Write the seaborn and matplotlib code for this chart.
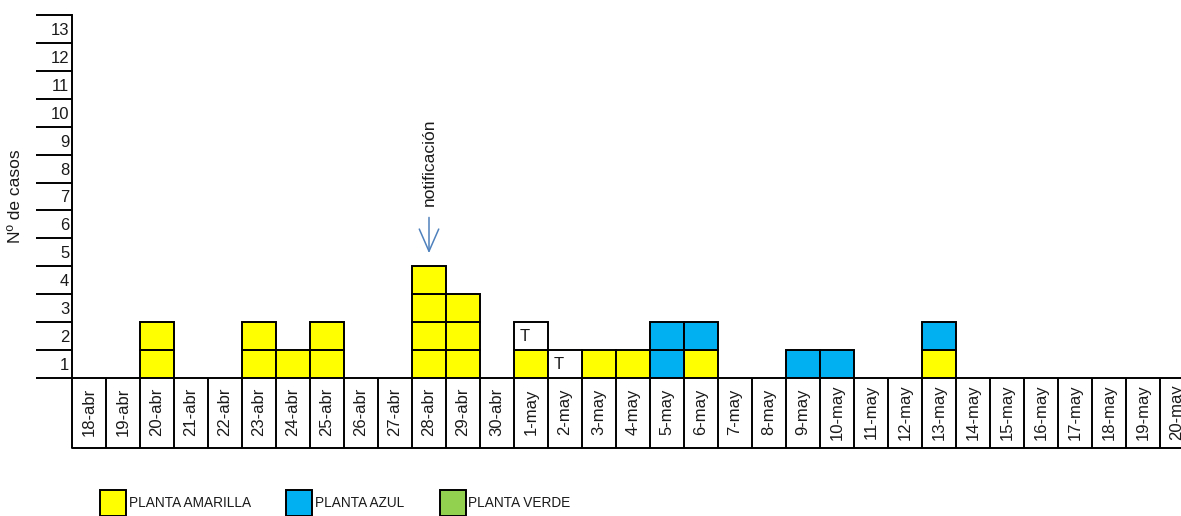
import matplotlib
matplotlib.use("Agg")
import matplotlib.pyplot as plt
from matplotlib.patches import Patch
from matplotlib.transforms import blended_transform_factory
from matplotlib import font_manager
import seaborn as sns
import pandas as pd

# Onset dates (April 18 - May 20)
fechas = [f"{d}-abr" for d in range(18, 31)] + [f"{d}-may" for d in range(1, 21)]

# Daily case counts per plant
amarilla = [0, 0, 2, 0, 0, 2, 1, 2, 0, 0, 4, 3, 0,
            1, 0, 1, 1, 0, 1, 0, 0, 0, 0, 0, 0, 1, 0, 0, 0, 0, 0, 0, 0]
azul = [0, 0, 0, 0, 0, 0, 0, 0, 0, 0, 0, 0, 0,
        0, 0, 0, 0, 2, 1, 0, 0, 1, 1, 0, 0, 1, 0, 0, 0, 0, 0, 0, 0]
verde = [0] * 33
casos_t = [0, 0, 0, 0, 0, 0, 0, 0, 0, 0, 0, 0, 0,
           1, 1, 0, 0, 0, 0, 0, 0, 0, 0, 0, 0, 0, 0, 0, 0, 0, 0, 0, 0]

grupos = ["PLANTA AMARILLA", "PLANTA AZUL", "PLANTA VERDE", "T"]
colores = {"PLANTA AMARILLA": "#FFFF00", "PLANTA AZUL": "#00B0F0",
           "PLANTA VERDE": "#92D050", "T": "#FFFFFF"}

# One row per case, stacked in order yellow, blue, green, T
filas = []
for i, f in enumerate(fechas):
    nivel = 0
    for g, serie in zip(grupos, [amarilla, azul, verde, casos_t]):
        for _ in range(serie[i]):
            nivel += 1
            filas.append({"pos": i, "fecha": f, "grupo": g, "nivel": nivel})
casos = pd.DataFrame(filas)

sns.set_theme(style="white")
plt.rcParams["font.family"] = ["Liberation Sans", "DejaVu Sans"]
texto = "#1a1a1a"

# Narrow face for the legend, when available
nombres = {f.name for f in font_manager.fontManager.ttflist}
if "Liberation Sans Narrow" in nombres:
    fam_leyenda, fs_leyenda, sep_leyenda = ["Liberation Sans Narrow"], 11.5, 2.6
else:
    fam_leyenda, fs_leyenda, sep_leyenda = ["Liberation Sans"], 9.8, 2.6

W, H = 1181, 516
fig = plt.figure(figsize=(W / 100, H / 100), dpi=100)
ax = fig.add_axes([72 / W, 1 - 378 / H, (W - 72) / W, 363 / H])

lw = 1.4
for g in grupos:
    sub = casos[casos["grupo"] == g]
    if sub.empty:
        continue
    ax.bar(sub["pos"], 1, bottom=sub["nivel"] - 1, width=1.0,
           color=colores[g], edgecolor="black", linewidth=lw, zorder=3)
    if g == "T":
        for _, r in sub.iterrows():
            ax.text(r["pos"] - 0.33, r["nivel"] - 0.5, "T", ha="left",
                    va="center", fontsize=12, color=texto, zorder=4)

ax.set_xlim(-0.5, -0.5 + (W - 72) / 34)
ax.set_ylim(0, 13)

# Y axis: long ticks at integers, labels centred inside each band
ax.set_yticks(range(0, 14))
ax.set_yticklabels([])
ax.set_yticks([k - 0.5 for k in range(1, 14)], minor=True)
ax.set_yticklabels([str(k) for k in range(1, 14)], minor=True, fontsize=12, color=texto)
ax.tick_params(axis="y", which="major", length=26, width=lw, color="black", left=True)
ax.tick_params(axis="y", which="minor", length=0, pad=2, left=True)

# X axis: date labels in a boxed row below the baseline
ax.set_xticks(range(len(fechas)))
ax.set_xticklabels(fechas, rotation=90, fontsize=12, color=texto)
ax.tick_params(axis="x", length=0, pad=24.5, bottom=True)
for lbl in ax.get_xticklabels():
    lbl.set_va("center")

for s in ["top", "right"]:
    ax.spines[s].set_visible(False)
for s in ["left", "bottom"]:
    ax.spines[s].set_color("black")
    ax.spines[s].set_linewidth(lw)

trans = blended_transform_factory(ax.transData, ax.transAxes)
fondo_tabla = -70 / 363
ax.vlines([i - 0.5 for i in range(len(fechas) + 1)], fondo_tabla, 0,
          transform=trans, colors="black", linewidth=lw, clip_on=False)
ax.plot([-0.5, len(fechas)], [fondo_tabla, fondo_tabla], transform=trans,
        color="black", linewidth=lw, clip_on=False)

# Notification marker over 28-abr
i_notif = fechas.index("28-abr")
ax.annotate("", xy=(i_notif, 4.37), xytext=(i_notif, 5.85),
            arrowprops=dict(arrowstyle="->,head_length=0.8,head_width=0.35",
                            color="#4F81BD", lw=1.1, mutation_scale=20))
ax.text(i_notif, 6.17, "notificación", rotation=90, ha="center", va="bottom",
        fontsize=12.5, color=texto)

fig.text(16 / W, 1 - 196 / H, "Nº de casos", rotation=90, ha="center",
         va="center", fontsize=12.5, color=texto)

# Legend with square swatches (about 26 px)
lado_pt = 18.7
hh = (lado_pt / fs_leyenda - 0.245) / 0.65
handles = [Patch(facecolor=colores[g], edgecolor="black", linewidth=lw, label=g)
           for g in grupos[:3]]
fig.legend(handles=handles, loc="upper left", bbox_to_anchor=(100 / W, 1 - 490 / H),
           ncol=3, frameon=False, prop={"family": fam_leyenda, "size": fs_leyenda},
           handlelength=lado_pt / fs_leyenda, handleheight=hh,
           handletextpad=0.2, columnspacing=sep_leyenda, borderpad=0, borderaxespad=0,
           labelcolor=texto)

fig.savefig("out.png", dpi=100)
